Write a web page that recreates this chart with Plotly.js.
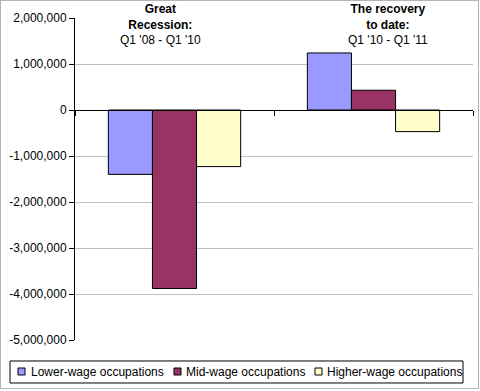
<!DOCTYPE html>
<html>
<head>
<meta charset="utf-8">
<script src="https://cdn.plot.ly/plotly-3.0.1.min.js"></script>
<style>
html,body{margin:0;padding:0;background:#fff;}
#frame{position:absolute;left:0;top:0;width:477px;height:387px;border:1px solid #b4b4b4;}
#chart{position:absolute;left:0;top:0;width:480px;height:391px;}
</style>
</head>
<body>
<div id="chart"></div>
<div id="frame"></div>
<script>
const periods = ["Great Recession: Q1 '08 - Q1 '10", "The recovery to date: Q1 '10 - Q1 '11"];
const periodLabels = ["<b>Great</b><br><b>Recession:</b><br>Q1 '08 - Q1 '10", "<b>The recovery</b><br><b>to date:</b><br>Q1 '10 - Q1 '11"];
const seriesNames = ["Lower-wage occupations", "Mid-wage occupations", "Higher-wage occupations"];
const lowerWage = [-1400000, 1240000];
const midWage = [-3880000, 430000];
const higherWage = [-1230000, -470000];
const yTickVals = [2000000, 1000000, 0, -1000000, -2000000, -3000000, -4000000, -5000000];
const yTickText = ["2,000,000", "1,000,000", "0", "-1,000,000", "-2,000,000", "-3,000,000", "-4,000,000", "-5,000,000"];

const colors = ["#9999FF", "#993366", "#FFFFCC"];
const values = [lowerWage, midWage, higherWage];

const traces = seriesNames.map((n, i) => ({
  type: 'bar', name: n, x: periods, y: values[i],
  marker: {color: colors[i], line: {color: '#000', width: 1}},
  hoverinfo: 'skip'
}));

// custom legend layout (paper coordinates)
const legTextX = [-0.1156, 0.2739, 0.628];
const legSqX = [[-0.1432, -0.1256], [0.2487, 0.2663], [0.6030, 0.6206]];
const legSqY = [-0.1087, -0.0870];
const legY = -0.0994;

const shapes = [
  {type: 'rect', xref: 'paper', yref: 'paper', x0: -0.1633, x1: 0.9749, y0: -0.1335, y1: -0.0652,
   line: {color: '#000', width: 1}, fillcolor: '#fff', layer: 'above'}
].concat(seriesNames.map((n, i) => ({
  type: 'rect', xref: 'paper', yref: 'paper', x0: legSqX[i][0], x1: legSqX[i][1],
  y0: legSqY[0], y1: legSqY[1], line: {color: '#000', width: 1}, fillcolor: colors[i], layer: 'above'
})));

const yMin = -5000000, yMax = 2000000;
const annotations = periods.map((p, i) => ({
  x: p, xref: 'x', y: 1, yref: 'paper', yanchor: 'top', yshift: 18,
  xshift: i === 0 ? -14 : 14,
  text: periodLabels[i], showarrow: false, bgcolor: '#fff',
  font: {size: 12, color: '#000'}, align: 'center'
})).concat(seriesNames.map((n, i) => ({
  x: legTextX[i], xref: 'paper', y: legY, yref: 'paper', xanchor: 'left', yanchor: 'middle',
  text: n, showarrow: false, font: {size: 12, color: '#000'}
})));

const layout = {
  width: 480, height: 391,
  margin: {l: 75, r: 7, t: 18, b: 51},
  paper_bgcolor: '#fff', plot_bgcolor: '#fff',
  font: {family: 'Liberation Sans, Arial, sans-serif', color: '#000', size: 12},
  barmode: 'group', bargap: 0.335, bargroupgap: 0,
  showlegend: false,
  xaxis: {type: 'category', anchor: 'free', position: (0 - yMin) / (yMax - yMin),
    showline: true, linecolor: '#000', linewidth: 1, ticks: 'outside', ticklen: 5,
    tickcolor: '#000', tickson: 'boundaries', showticklabels: false, showgrid: false,
    zeroline: false, fixedrange: true},
  yaxis: {range: [yMin, yMax], tickvals: yTickVals, ticktext: yTickText,
    showline: true, linecolor: '#000', linewidth: 1, ticks: 'outside', ticklen: 5,
    tickcolor: '#000', showgrid: true, gridcolor: '#c0c0c0', gridwidth: 1,
    zeroline: true, zerolinecolor: '#000', zerolinewidth: 1,
    tickfont: {size: 12}, fixedrange: true},
  shapes: shapes,
  annotations: annotations
};

Plotly.newPlot('chart', traces, layout, {displayModeBar: false, staticPlot: true});
</script>
</body>
</html>
